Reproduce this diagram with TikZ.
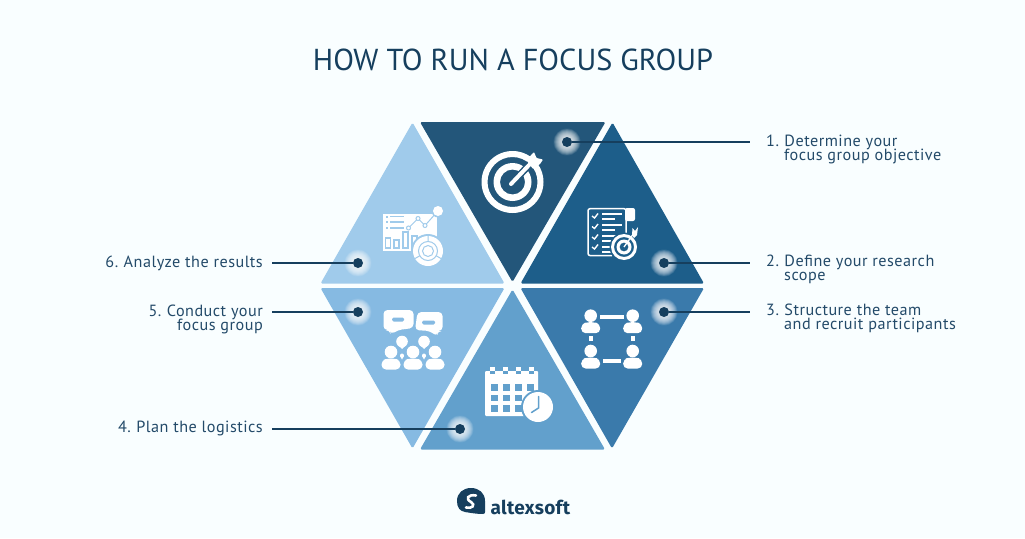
\documentclass[tikz,border=0pt]{standalone}
\usepackage{fontspec}
\setmainfont{PT Sans}
\newfontfamily\labelfont{PT Sans}[LetterSpace=3]
\newfontfamily\logofont{Fira Sans}[LetterSpace=1.5]
\usetikzlibrary{positioning}
\AtBeginDocument{\setlength{\normallineskiplimit}{-10pt}\setlength{\lineskiplimit}{-10pt}}

\definecolor{pagebg}{HTML}{F9FEFF}
\definecolor{inkdark}{HTML}{163F5E}
\definecolor{inklabel}{HTML}{234A69}
\definecolor{triA}{HTML}{23567A}
\definecolor{triB}{HTML}{1D5E8A}
\definecolor{triC}{HTML}{3A7AAB}
\definecolor{triD}{HTML}{62A0CC}
\definecolor{triE}{HTML}{86BAE2}
\definecolor{triF}{HTML}{A0CBEB}

\newcommand{\glow}[2]{%
  \foreach \r in {13.5,13,...,6} {\fill[white, opacity=.085] (#1,#2) circle[radius=\r];}}
\newcommand{\person}[2]{%
  \fill[white] (#1,#2) circle[radius=6.3];
  \fill[white, rounded corners=4.5pt] ({#1-9.5},{#2+17.5}) -- ({#1-9.5},{#2+8}) -- ({#1-3},{#2+6.5}) -- ({#1+3},{#2+6.5}) -- ({#1+9.5},{#2+8}) -- ({#1+9.5},{#2+17.5}) -- cycle;}

\begin{document}
\begin{tikzpicture}[
x=1pt, y=-1pt,
tri/.style={rounded corners=1.5pt},
dot/.style={circle, fill=inkdark, inner sep=0pt, minimum size=10pt},
leader/.style={draw=inkdark, line width=1.8pt},
lbl/.style={text=inklabel, font=\labelfont\fontsize{16.2}{14.2}\selectfont, inner sep=0pt},
lblright/.style={lbl, align=left, anchor=north west},
lblleft/.style={lbl, align=right, anchor=north east}
]

\fill[pagebg] (0,0) rectangle (1025,538);
\useasboundingbox (0,0) rectangle (1025,538);

\node[text=inkdark, font=\fontsize{30.3}{36}\selectfont, inner sep=0pt] (title) at (513,60) {HOW TO RUN A FOCUS GROUP};

\fill[tri, triA] (420,122) -- (605.5,122) -- (512.5,282) -- cycle;
\fill[tri, triB] (612.5,122.5) -- (704,283.5) -- (520.5,283.5) -- cycle;
\fill[tri, triC] (520.5,288) -- (704,288) -- (612,448.5) -- cycle;
\fill[tri, triD] (512.5,289.5) -- (605,449.5) -- (420,449.5) -- cycle;
\fill[tri, triE] (320.5,288) -- (504.5,288) -- (412.5,448.5) -- cycle;
\fill[tri, triF] (412.5,122.5) -- (504.5,283.5) -- (320.5,283.5) -- cycle;

% target
\fill[white, even odd rule] (512.5,182) circle[radius=31] circle[radius=25];
\fill[white, even odd rule] (512.5,182) circle[radius=19] circle[radius=12.5];
\draw[triA, line width=7pt] (512,183) -- (533,161);
\draw[white, line width=4pt, line cap=round] (511,184) -- (531,163);
\fill[white, rounded corners=.8pt] (527,161) -- (531,155) -- (534,152) -- (536.5,158) -- (543,159.5) -- (540,164) -- (533,169) -- cycle;

% checklist
\draw[white, line width=1.5pt, rounded corners=2pt] (626,240) -- (626,208.7) -- (588,208.7) -- (588,255.5) -- (612,255.5);
\fill[white, rounded corners=2pt] (625,208) rectangle (635,221);
\foreach \y in {216,226.5,237,247} {
  \draw[white, line width=1.4pt] (592,\y) -- (594.5,{\y+2}) -- (598,{\y-2.5});
}
\foreach \y/\w in {214/622,219/615,225/622,230/615,236/622,241/616,247/611,252/611} {
  \draw[white, line width=1.3pt] (602,\y) -- (\w,\y);
}
\fill[triB] (624,247) circle[radius=14.5];
\fill[white, even odd rule] (624,247) circle[radius=13] circle[radius=10];
\fill[white, even odd rule] (624,247) circle[radius=7.5] circle[radius=4.5];
\draw[white, line width=1.3pt] (624,247) -- (634,233);
\fill[white] (632,235) -- (632.5,228) -- (635,231) -- (638,227) -- (637,235) -- (634,238) -- cycle;

% team
\foreach \x/\y in {590.7/315.7, 632.7/315.7, 590.7/351, 632.7/351} {
  \person{\x}{\y}
}
\fill[white] (600,315.2) rectangle (624,319.2);
\fill[white] (603,359) rectangle (621,363);
\fill[white] (589,336) rectangle (593,341);
\fill[white] (631,336) rectangle (635,341);

% calendar
\fill[white, rounded corners=1pt] (485,371) rectangle (538,416);
\foreach \x in {492,505,518,531} {
  \fill[triD] ({\x-3},367) rectangle ({\x+3},371);
  \fill[white] ({\x-2.5},367) rectangle ({\x+2.5},371);
  \fill[triD] ({\x-2.5},371) rectangle ({\x+2.5},374);
}
\foreach \y in {384,394.5,405} {
  \foreach \x in {491,503,515} {
    \fill[triD] (\x,\y) rectangle ({\x+6.5},{\y+6.5});
  }
}
\fill[triD] (527,384) rectangle (533.5,390.5);
\fill[triD] (538,407) circle[radius=17];
\fill[white] (538,407) circle[radius=15];
\draw[triD, line width=1.5pt, line cap=round] (538.5,396.5) -- (538.5,408) -- (531.5,412.5);

% discussion
\fill[white, rounded corners=4pt] (383.5,310) -- (413.5,310) -- (413.5,328) -- (398,330) -- (391,334.5) -- (389.5,330) -- (383.5,330) -- cycle;
\fill[white, rounded corners=4pt] (415,330) -- (417.5,312) -- (442.5,312) -- (442.5,331) -- (437.5,331) -- (437,336.5) -- (430,331) -- cycle;
\fill[triE, rounded corners=1.5pt] (392,317.5) rectangle (404,321.5);
\fill[triE, rounded corners=1.5pt] (422,320.5) rectangle (435,324.5);
\foreach \x in {391,413,435} {
  \person{\x}{352}
}
\foreach \x in {402,424} {
  \fill[white] (\x,341.5) circle[radius=5.8];
  \fill[white] ({\x-4},345) -- ({\x+4},345) -- (\x,349) -- cycle;
  \fill[white] (\x,355.5) circle[radius=2];
  \fill[white] ({\x-2},356) -- ({\x+2},356) -- (\x,359.5) -- cycle;
}

% analysis
\fill[white] (383,214) rectangle (437,251);
\foreach \y in {216.5,222,228} {
  \fill[triF] (386,{\y-1}) rectangle (387.5,{\y+1});
  \fill[triF] (390,{\y-.8}) rectangle (404,{\y+.8});
}
\foreach \x/\t/\b in {385.5/238/248, 394/240/248, 403/232/248, 412/236/248} {
  \draw[triF, line width=1.1pt] (\x,\b) rectangle ({\x+5},\t);
}
\draw[triF, line width=1pt] (408.5,228) -- (418,218.5) -- (425,225.5) -- (437,212);
\foreach \x/\y in {408.5/228, 418/218.5, 425/225.5} {
  \fill[white, draw=triF, line width=1pt] (\x,\y) circle[radius=2];
}
\fill[triF] (438,211) circle[radius=6.5];
\fill[white] (438,211) circle[radius=5];
\fill[triF] (428,251) circle[radius=17];
\fill[white] (428,251) circle[radius=15];
\draw[triF, line width=1pt] (428,251) circle[radius=9.5];
\draw[triF, line width=1pt] (428,251) circle[radius=5.5];
\draw[triF, line width=1pt] (428,241.5) -- (428,236) (436.2,255.8) -- (441,258.5) (419.8,255.8) -- (415,258.5);

% callouts
\glow{567}{142}
\glow{664}{263}
\glow{664}{312}
\glow{460}{429}
\glow{358}{312}
\glow{358}{263}

\node[dot] (dota) at (567,142) {};
\node[dot] (dotb) at (664,263) {};
\node[dot] (dotc) at (664,312) {};
\node[dot] (dotd) at (460,429) {};
\node[dot] (dote) at (358,312) {};
\node[dot] (dotf) at (358,263) {};

\coordinate (enda) at (750,142);
\coordinate (endb) at (750,263);
\coordinate (endc) at (750,312);
\coordinate (endd) at (272,429);
\coordinate (ende) at (272,312);
\coordinate (endf) at (272,263);

\draw[leader] (dota) -- (enda);
\draw[leader] (dotb) -- (endb);
\draw[leader] (dotc) -- (endc);
\draw[leader] (dotd) -- (endd);
\draw[leader] (dote) -- (ende);
\draw[leader] (dotf) -- (endf);

\node[lblright] (laba) at (766,134.5) {1.\hspace{5.5pt}Determine your\\\hspace{18pt}focus group objective};
\node[lblright] (labb) at (766,255) {2.\hspace{5.5pt}Define your research\\\hspace{18pt}scope};
\node[lblright] (labc) at (766,304) {3.\hspace{5.5pt}Structure the team\\\hspace{18pt}and recruit participants};
\node[lblleft] (labd) at (263,421) {4.\hspace{5.5pt}Plan the logistics};
\node[lblleft] (labe) at (263,305) {5.\hspace{5.5pt}Conduct your\\focus group};
\node[lblleft] (labf) at (263,255.5) {6.\hspace{5.5pt}Analyze the results};

% logo
\fill[inkdark] (485,512) -- (485,501) .. controls (485,493) and (479,488) .. (471,488) .. controls (463,488) and (457,493) .. (457,501) .. controls (457,508) and (460,511) .. (465,512) .. controls (471,513) and (477,514) .. (483,514) .. controls (484.5,514) and (485,513) .. (485,512) -- cycle;
\draw[white, line width=2.6pt, line cap=round] (476,495.5) .. controls (468,494) and (465,499) .. (471,502) .. controls (476,505) and (472,509) .. (466,507.5);
\node[text=inkdark, font=\logofont\bfseries\fontsize{19}{20}\selectfont, inner sep=0pt, anchor=base west] (logo) at (490.5,514) {altexsoft};

\end{tikzpicture}
\end{document}
